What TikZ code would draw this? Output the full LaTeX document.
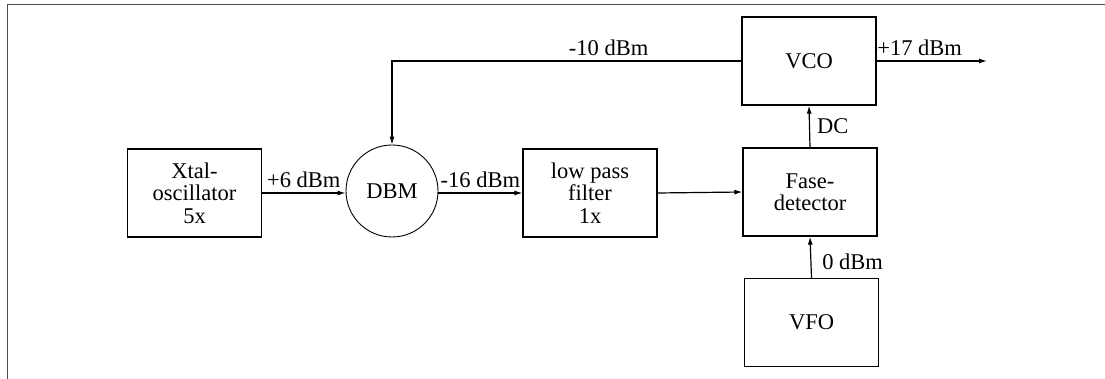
\documentclass[tikz,border=0pt]{standalone}
\usepackage{fontspec}
\setmainfont{Liberation Serif}
\usepackage{tikz}
\usetikzlibrary{positioning,arrows.meta}

\begin{document}
\begin{tikzpicture}[
  x=1pt,y=-1pt,
  font=\fontsize{22.5}{22.5}\selectfont,
  blk/.style={rectangle,draw,line width=1.2pt,minimum width=134pt,minimum height=88pt,align=center,inner sep=0},
  mix/.style={circle,draw,line width=0.9pt,minimum size=92pt,inner sep=0},
  sig/.style={-{Latex[length=8pt,width=5pt]},line width=1.2pt},
  lbl/.style={inner sep=5pt},
]
\useasboundingbox (0,0) rectangle (1105,379);
% frame edges of the page
\coordinate (tl) at (7,4);
\coordinate (tr) at (1105,4);
\coordinate (bl) at (7,379);
\draw[black!70,line width=0.8pt] (bl) -- (tl) -- (tr);

% blocks
\node[blk] (xtal) at (194.5,193){Xtal-\\oscillator\\5x};
\node[mix] (dbm) at (392,191){DBM};
\node[blk] (lpf) at (590,193){low pass\\filter\\1x};
\node[blk] (fd) at (810,192){Fase-\\detector};
\node[blk] (vco) at (809,61){VCO};
\node[blk] (vfo) at (811.5,322.5){VFO};
\coordinate (out) at (987,61);

% signal path
\draw[sig] (xtal.east) -- node[above,lbl]{+6 dBm} (xtal.east -| dbm.west);
\draw[sig] (dbm.east |- lpf.west) -- node[above,lbl]{-16 dBm} (lpf.west);
\draw[sig] (lpf.east) -- (fd.west);
\draw[sig] (vco.west) -| node[pos=0.19,above,lbl]{-10 dBm} (dbm.north);
\draw[sig] (fd.north) -- node[right,lbl,xshift=2pt]{DC} (vco.south);
\draw[sig] (vfo.north) -- node[right,lbl,xshift=6pt,yshift=-5pt]{0 dBm} (fd.south);
\draw[sig] (vco.east) -- node[pos=0.39,above,lbl]{+17 dBm} (out);
\end{tikzpicture}
\end{document}
